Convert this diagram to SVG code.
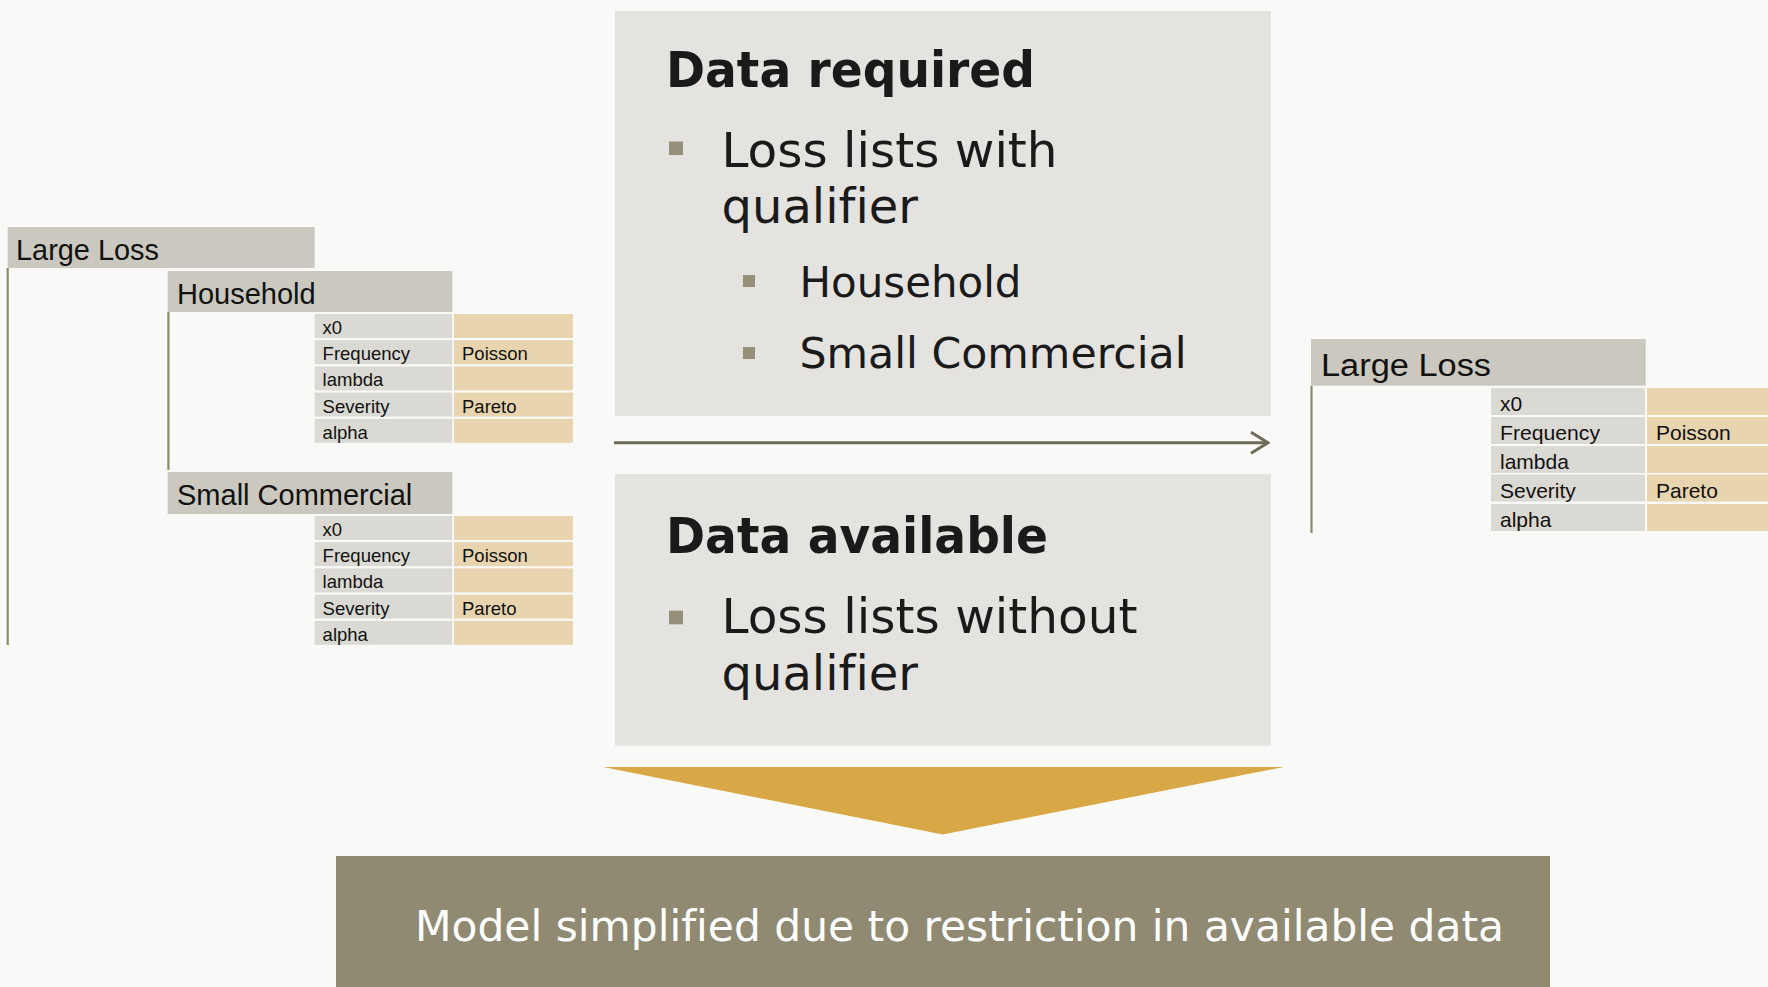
<svg xmlns="http://www.w3.org/2000/svg" width="1768" height="987" viewBox="0 0 1768 987">
<defs>
<style>
.bg{fill:#f9f9f7}
.hdr{fill:#cbc8bf}
.lbl{fill:#dbd9d3}
.val{fill:#e8d4ae}
.box{fill:#e5e3df}
.bul{fill:#958f79}
.tree{stroke:#8d8c68;stroke-width:2.2;fill:none}
text{font-variant-ligatures:none}
.ht{font-family:"Liberation Sans",Arial,sans-serif;font-size:29px;fill:#111}
.rt{font-family:"Liberation Sans",Arial,sans-serif;font-size:18.5px;fill:#111}
.rt2{font-family:"Liberation Sans",Arial,sans-serif;font-size:21px;fill:#111}
.ttl{font-family:"DejaVu Sans",Verdana,sans-serif;font-size:50px;font-weight:bold;fill:#1a1a1a}
.b1{font-family:"DejaVu Sans",Verdana,sans-serif;font-size:48px;fill:#1a1a1a}
.b2{font-family:"DejaVu Sans",Verdana,sans-serif;font-size:42px;fill:#1a1a1a}
.ft{font-family:"DejaVu Sans",Verdana,sans-serif;font-size:42px;fill:#ffffff}
</style>
<marker id="chev" viewBox="0 0 20 24" refX="18" refY="12" markerWidth="20" markerHeight="24" markerUnits="userSpaceOnUse" orient="auto">
<path d="M1,1.5 L18,12 L1,22.5" fill="none" stroke="#6f6b5b" stroke-width="3"/>
</marker>
</defs>
<rect class="bg" x="0" y="0" width="1768" height="987"/>

<g id="connectors">
<line class="tree" x1="7.7" y1="268" x2="7.7" y2="645"/>
<line class="tree" x1="168.4" y1="312" x2="168.4" y2="470"/>
<line class="tree" x1="1311.5" y1="386" x2="1311.5" y2="533"/>
<line x1="614" y1="442.7" x2="1268" y2="442.7" stroke="#6f6b5b" stroke-width="3" marker-end="url(#chev)"/>
</g>

<g id="left-large-loss">
<rect class="hdr" x="7.7" y="227" width="307" height="41"/>
<text class="ht" x="16" y="260" textLength="143" lengthAdjust="spacingAndGlyphs">Large Loss</text>
</g>

<g id="household">
<rect class="hdr" x="167.6" y="271" width="284.7" height="41"/>
<text class="ht" x="177" y="304">Household</text>
<rect class="lbl" x="314.6" y="314" width="137.7" height="24"/><rect class="val" x="454" y="314" width="119" height="24"/>
<rect class="lbl" x="314.6" y="340.2" width="137.7" height="24"/><rect class="val" x="454" y="340.2" width="119" height="24"/>
<rect class="lbl" x="314.6" y="366.4" width="137.7" height="24"/><rect class="val" x="454" y="366.4" width="119" height="24"/>
<rect class="lbl" x="314.6" y="392.6" width="137.7" height="24"/><rect class="val" x="454" y="392.6" width="119" height="24"/>
<rect class="lbl" x="314.6" y="418.8" width="137.7" height="24"/><rect class="val" x="454" y="418.8" width="119" height="24"/>
<text class="rt" x="322.6" y="334">x0</text>
<text class="rt" x="322.6" y="360.2">Frequency</text><text class="rt" x="462" y="360.2">Poisson</text>
<text class="rt" x="322.6" y="386.4">lambda</text>
<text class="rt" x="322.6" y="412.6">Severity</text><text class="rt" x="462" y="412.6">Pareto</text>
<text class="rt" x="322.6" y="438.8">alpha</text>
</g>

<g id="small-commercial">
<rect class="hdr" x="167.6" y="472" width="284.7" height="42"/>
<text class="ht" x="177" y="505">Small Commercial</text>
<rect class="lbl" x="314.6" y="516" width="137.7" height="24"/><rect class="val" x="454" y="516" width="119" height="24"/>
<rect class="lbl" x="314.6" y="542.2" width="137.7" height="24"/><rect class="val" x="454" y="542.2" width="119" height="24"/>
<rect class="lbl" x="314.6" y="568.4" width="137.7" height="24"/><rect class="val" x="454" y="568.4" width="119" height="24"/>
<rect class="lbl" x="314.6" y="594.6" width="137.7" height="24"/><rect class="val" x="454" y="594.6" width="119" height="24"/>
<rect class="lbl" x="314.6" y="620.8" width="137.7" height="24"/><rect class="val" x="454" y="620.8" width="119" height="24"/>
<text class="rt" x="322.6" y="536">x0</text>
<text class="rt" x="322.6" y="562.2">Frequency</text><text class="rt" x="462" y="562.2">Poisson</text>
<text class="rt" x="322.6" y="588.4">lambda</text>
<text class="rt" x="322.6" y="614.6">Severity</text><text class="rt" x="462" y="614.6">Pareto</text>
<text class="rt" x="322.6" y="640.8">alpha</text>
</g>

<g id="right-large-loss">
<rect class="hdr" x="1311" y="339" width="334.7" height="46.7"/>
<text class="ht" x="1321" y="376" style="font-size:31px" textLength="170" lengthAdjust="spacingAndGlyphs">Large Loss</text>
<rect class="lbl" x="1491" y="388" width="154" height="27"/><rect class="val" x="1647" y="388" width="121" height="27"/>
<rect class="lbl" x="1491" y="417" width="154" height="27"/><rect class="val" x="1647" y="417" width="121" height="27"/>
<rect class="lbl" x="1491" y="446" width="154" height="27"/><rect class="val" x="1647" y="446" width="121" height="27"/>
<rect class="lbl" x="1491" y="474.5" width="154" height="27"/><rect class="val" x="1647" y="474.5" width="121" height="27"/>
<rect class="lbl" x="1491" y="504" width="154" height="27"/><rect class="val" x="1647" y="504" width="121" height="27"/>
<text class="rt2" x="1500" y="411">x0</text>
<text class="rt2" x="1500" y="440" textLength="100" lengthAdjust="spacingAndGlyphs">Frequency</text><text class="rt2" x="1656" y="440">Poisson</text>
<text class="rt2" x="1500" y="468.5">lambda</text>
<text class="rt2" x="1500" y="497.5">Severity</text><text class="rt2" x="1656" y="497.5">Pareto</text>
<text class="rt2" x="1500" y="527">alpha</text>
</g>

<g id="data-required">
<rect class="box" x="615" y="11" width="656" height="405"/>
<text class="ttl" x="666" y="87" textLength="369" lengthAdjust="spacingAndGlyphs">Data required</text>
<rect class="bul" x="669" y="141.5" width="14" height="13.5"/>
<text class="b1" x="721.5" y="167" textLength="336" lengthAdjust="spacingAndGlyphs">Loss lists with</text>
<text class="b1" x="721.5" y="223">qualifier</text>
<rect class="bul" x="743" y="275" width="12" height="12"/>
<text class="b2" x="799.5" y="297" textLength="222" lengthAdjust="spacingAndGlyphs">Household</text>
<rect class="bul" x="743" y="347" width="12" height="12"/>
<text class="b2" x="799.5" y="368" textLength="387" lengthAdjust="spacingAndGlyphs">Small Commercial</text>
</g>

<g id="data-available">
<rect class="box" x="615" y="474" width="656" height="271.7"/>
<text class="ttl" x="666" y="553.3" textLength="382" lengthAdjust="spacingAndGlyphs">Data available</text>
<rect class="bul" x="669" y="610.7" width="14" height="13.6"/>
<text class="b1" x="721.5" y="633.3" textLength="416" lengthAdjust="spacingAndGlyphs">Loss lists without</text>
<text class="b1" x="721.5" y="690">qualifier</text>
</g>

<g id="down-arrow">
<polygon points="603,767 1284,767 942.7,834.5" fill="#d9a846"/>
</g>

<g id="conclusion">
<rect x="336" y="856" width="1214" height="131" fill="#918a73"/>
<text class="ft" x="415" y="941" textLength="1089" lengthAdjust="spacingAndGlyphs">Model simplified due to restriction in available data</text>
</g>
</svg>
